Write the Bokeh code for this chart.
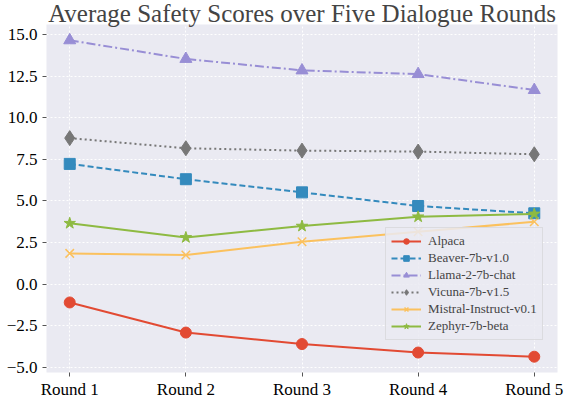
from bokeh.plotting import figure
from bokeh.models import Range1d, FixedTicker, CustomJSTickFormatter, Legend, LegendItem
from bokeh.embed import file_html
from bokeh.resources import INLINE

rounds = ["Round 1", "Round 2", "Round 3", "Round 4", "Round 5"]
alpaca = [-1.10, -2.91, -3.60, -4.11, -4.36]
beaver = [7.23, 6.31, 5.52, 4.70, 4.26]
llama = [14.66, 13.54, 12.85, 12.63, 11.67]
vicuna = [8.78, 8.17, 8.03, 7.97, 7.81]
mistral = [1.85, 1.75, 2.55, 3.15, 3.75]
zephyr = [3.66, 2.81, 3.49, 4.05, 4.22]
y_ticks = [-5.0, -2.5, 0.0, 2.5, 5.0, 7.5, 10.0, 12.5, 15.0]
title_text = "Average Safety Scores over Five Dialogue Rounds"

FONT = "Times"
xs = list(range(len(rounds)))
x_lo, x_hi = -0.2, 4.2
y_lo, y_hi = -5.31, 15.61

p = figure(width=565, height=401, output_backend="svg", toolbar_location=None,
           x_range=Range1d(x_lo, x_hi), y_range=Range1d(y_lo, y_hi),
           min_border_left=46, min_border_right=8, min_border_top=0, min_border_bottom=29)

p.title.text = title_text
p.title.text_font = FONT
p.title.text_font_size = "25px"
p.title.text_font_style = "normal"
p.title.align = "center"
p.title.standoff = -5
p.title.offset = 0

p.background_fill_color = "#EAEAF2"
p.border_fill_color = "white"
p.outline_line_color = None

for ax in (p.xaxis[0], p.yaxis[0]):
    ax.axis_line_color = None
    ax.major_tick_line_color = "#555555"
    ax.major_tick_out = 4
    ax.major_tick_in = 0
    ax.minor_tick_line_color = None
    ax.major_label_text_font = FONT
    ax.major_label_text_font_size = "17px"
    ax.major_label_text_color = "black"

p.xaxis.major_label_standoff = 3
p.yaxis.major_label_standoff = 5

p.xaxis.ticker = FixedTicker(ticks=xs)
p.xaxis.major_label_overrides = {i: r for i, r in enumerate(rounds)}
p.yaxis.ticker = FixedTicker(ticks=y_ticks)
p.yaxis.formatter = CustomJSTickFormatter(code="return tick.toFixed(1).replace('-', '\u2212');")

p.grid.grid_line_color = "white"
p.grid.grid_line_dash = "2 2"
p.grid.grid_line_width = 1

series = [
    ("Alpaca", alpaca, "#E24A33", "solid", "circle", 11),
    ("Beaver-7b-v1.0", beaver, "#348ABD", "6 3", "square", 11),
    ("Llama-2-7b-chat", llama, "#988ED5", "9 3 2 3", "triangle", 12),
    ("Vicuna-7b-v1.5", vicuna, "#777777", "2 3", "diamond", 15),
    ("Mistral-Instruct-v0.1", mistral, "#FBC15E", "solid", "x", 12),
    ("Zephyr-7b-beta", zephyr, "#8EBA42", "solid", "star", 12),
]

items = []
for name, ys, color, dash, marker, size in series:
    l = p.line(xs, ys, line_color=color, line_width=2, line_dash=dash)
    if marker == "x":
        s = p.scatter(xs, ys, marker=marker, size=size, line_color=color, line_width=1.5)
    else:
        s = p.scatter(xs, ys, marker=marker, size=size, fill_color=color, line_color=color)
    items.append(LegendItem(label=name, renderers=[l, s]))

legend = Legend(items=items, location=(339, 32))
legend.label_text_font = FONT
legend.label_text_font_size = "13px"
legend.label_height = 14
legend.glyph_height = 14
legend.glyph_width = 30
legend.spacing = 1
legend.padding = 5
legend.margin = 0
legend.label_standoff = 7
legend.background_fill_color = "#EAEAF2"
legend.background_fill_alpha = 0.85
legend.border_line_color = "#CCCCCC"
legend.border_line_width = 1
p.add_layout(legend)

open("out.html", "w").write(file_html(p, INLINE))
